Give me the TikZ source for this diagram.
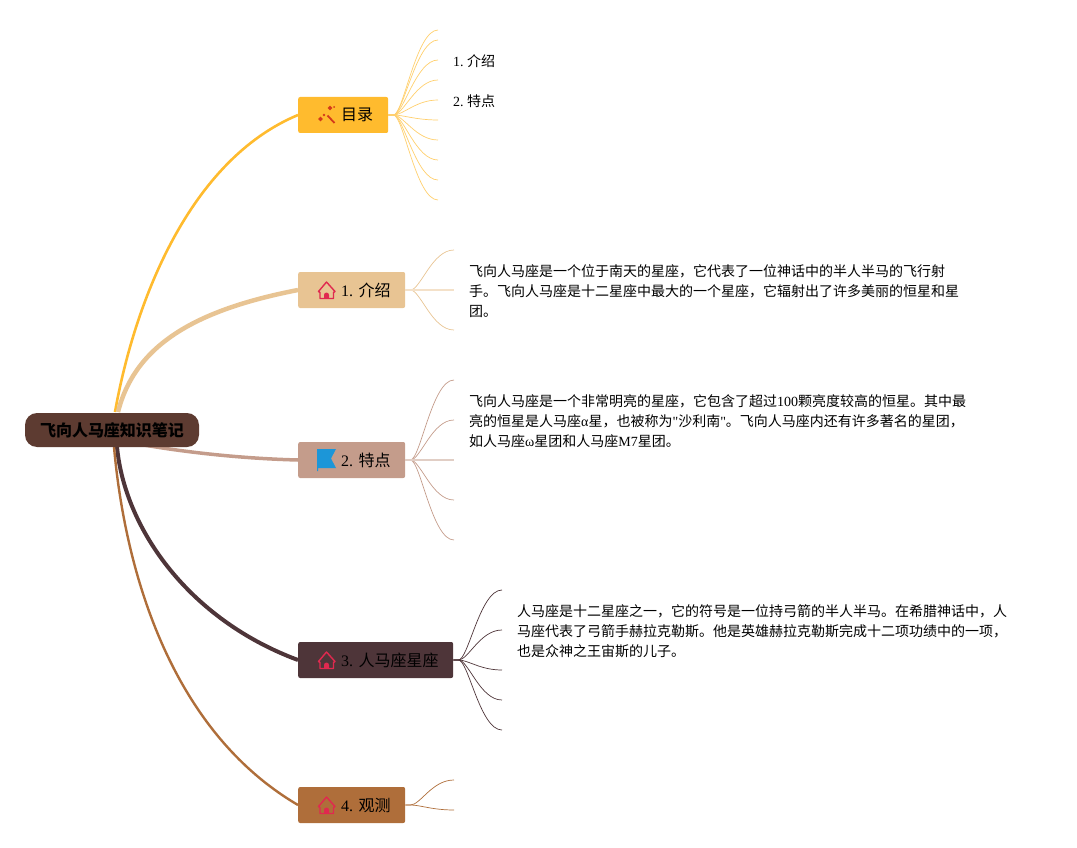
\documentclass[tikz,border=0pt]{standalone}
\usepackage{fontspec}
\setmainfont{Liberation Serif}
\newfontfamily\cjk{Noto Sans CJK SC}
\newfontfamily\latf{Liberation Serif}
\usetikzlibrary{backgrounds}
\frenchspacing
\newcommand{\lat}[1]{{\latf #1}}
\newcommand{\topiclab}[1]{\hspace*{43pt}\raisebox{-1pt}{#1}}
\definecolor{mulucol}{HTML}{FFBB2E}
\definecolor{introcol}{HTML}{E8C493}
\definecolor{featcol}{HTML}{C49C8B}
\definecolor{starcol}{HTML}{4E3539}
\definecolor{watchcol}{HTML}{AF6E3A}
\definecolor{rootcol}{HTML}{5D3B31}
\definecolor{homecol}{HTML}{E0294F}
\definecolor{flagcol}{HTML}{1C96D8}
\definecolor{wandcol}{HTML}{D43A1A}
\tikzset{
  topic/.style={fill=#1, rounded corners=2, minimum height=36, inner sep=0, anchor=west, align=left, font=\fontsize{16}{20}\selectfont},
  para/.style={anchor=west, inner sep=0, align=left, font=\fontsize{14}{20}\selectfont},
  leaf/.style={draw=#1, line width=.7},
  homeicon/.pic={
    \draw[homecol, line width=1.4, line join=round] (-8,1.5) -- (0,-8) -- (8.5,1.5) -- (7,2.5) -- (7,8.5) -- (-6.5,8.5) -- (-6.5,2.5) -- cycle;
    \fill[homecol] (-2.5,8.5) -- (-2.5,5) arc[start angle=180, end angle=360, radius=2.5] -- (2.5,8.5) -- cycle;
  }
}
\begin{document}
\begin{tikzpicture}[x=1pt, y=-1pt]
\useasboundingbox (0,0) rectangle (1077,848);
\node[fill=rootcol, rounded corners=12, minimum width=174, minimum height=34, inner sep=0, font=\fontsize{16}{20}\selectfont\bfseries] (root) at (112,430) {\cjk 飞向人马座知识笔记};
\coordinate (rootup) at (115,412);
\coordinate (rootupr) at (118,412);
\coordinate (rootdown) at (117,447);
\coordinate (rootdownl) at (114,447);
\coordinate (rootright) at (118,440);
% topics
\node[topic=mulucol, text width=90] (mulu) at (298,115) {\topiclab{\cjk 目录}};
\node[topic=introcol, text width=107] (intro) at (298,290) {\topiclab{1. {\cjk 介绍}}};
\node[topic=featcol, text width=107] (feat) at (298,460) {\topiclab{2. {\cjk 特点}}};
\node[topic=starcol, text width=155] (star) at (298,660) {\topiclab{3. {\cjk 人马座星座}}};
\node[topic=watchcol, text width=107] (watch) at (298,805) {\topiclab{4. {\cjk 观测}}};
% icons
\pic at (326.5,290) {homeicon};
\pic at (326.5,660) {homeicon};
\pic at (326.5,805) {homeicon};
\fill[flagcol] (317,449) -- (336,449) -- (331,458.5) -- (336,468) -- (318,468) -- (318,471) -- (317,471) -- cycle; %flag
\draw[wandcol, line width=1.8] (327.5,115.5) -- (334.5,123); %wand
\foreach \x/\y/\r in {330/108/2.3, 320.5/119/2.3, 324/115/1.3, 334/107/1}{
  \fill[wandcol] (\x-\r,\y) -- (\x,\y-\r) -- (\x+\r,\y) -- (\x,\y+\r) -- cycle;
}
% main branches
\begin{scope}[on background layer]
\draw[mulucol, line width=2.6] (rootup) .. controls (135,300) and (190,160) .. (mulu.west);
\draw[introcol, line width=4.5] (rootupr) .. controls (135,345) and (195,310) .. (intro.west);
\draw[featcol, line width=3.5] (rootright) .. controls (150,447) and (220,458) .. (feat.west);
\draw[starcol, line width=4] (rootdown) .. controls (125,530) and (190,620) .. (star.west);
\draw[watchcol, line width=2.4] (rootdownl) .. controls (125,570) and (170,730) .. (watch.west);
\end{scope}
% leaves
\foreach \y in {30,40,60,80,100,120,140,160,180,200}{
  \coordinate (mulu\y) at (438,\y);
  \draw[leaf=mulucol!70!white] (mulu.east) -- ++(5,0) .. controls +(10,0) and +(-22,0) .. (mulu\y);
}
\foreach \y in {250,330}{
  \coordinate (intro\y) at (454,\y);
  \draw[leaf=introcol] (intro.east) -- ++(5,0) .. controls +(10,0) and +(-22,0) .. (intro\y);
}
\coordinate (intro290) at (454,290);
\draw[introcol!50!white, line width=1.5] (intro.east) -- (intro290);
\foreach \y in {380,420,500,540}{
  \coordinate (feat\y) at (454,\y);
  \draw[leaf=featcol] (feat.east) -- ++(5,0) .. controls +(10,0) and +(-22,0) .. (feat\y);
}
\coordinate (feat460) at (454,460);
\draw[featcol!50!white, line width=1.5] (feat.east) -- (feat460);
\foreach \y in {590,630,670,700,730}{
  \coordinate (star\y) at (502,\y);
  \draw[leaf=starcol] (star.east) -- ++(5,0) .. controls +(10,0) and +(-22,0) .. (star\y);
}
\foreach \y in {780,810}{
  \coordinate (watch\y) at (454,\y);
  \draw[leaf=watchcol] (watch.east) -- ++(5,0) .. controls +(10,0) and +(-22,0) .. (watch\y);
}
% texts
\node[para] (item1) at (453,61.5) {1. {\cjk 介绍}};
\node[para] (item2) at (453,101.5) {2. {\cjk 特点}};
\node[para] (introtext) at (469,291.5) {\cjk 飞向人马座是一个位于南天的星座，它代表了一位神话中的半人半马的飞行射\\\cjk 手。飞向人马座是十二星座中最大的一个星座，它辐射出了许多美丽的恒星和星\\\cjk 团。};
\node[para] (feattext) at (469,421.5) {\cjk 飞向人马座是一个非常明亮的星座，它包含了超过\lat{100}颗亮度较高的恒星。其中最\\\cjk 亮的恒星是人马座\lat{α}星，也被称为\lat{"}沙利南\lat{"}。飞向人马座内还有许多著名的星团，\\\cjk 如人马座\lat{ω}星团和人马座\lat{M7}星团。};
\node[para] (startext) at (517,631.5) {\cjk 人马座是十二星座之一，它的符号是一位持弓箭的半人半马。在希腊神话中，人\\\cjk 马座代表了弓箭手赫拉克勒斯。他是英雄赫拉克勒斯完成十二项功绩中的一项，\\\cjk 也是众神之王宙斯的儿子。};
\end{tikzpicture}
\end{document}
